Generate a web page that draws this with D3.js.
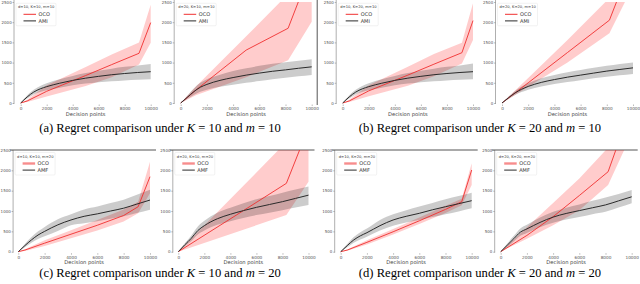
<!DOCTYPE html>
<html>
<head>
<meta charset="utf-8">
<script src="https://cdn.jsdelivr.net/npm/d3@7"></script>
<style>
body { margin: 0; background: #fff; }
svg { display: block; }
.tick text { font-family: "DejaVu Sans", sans-serif; fill: #555; }
.caption { font-family: "Liberation Serif", "Times New Roman", serif; font-size: 12.6px; fill: #000; }
</style>
</head>
<body>
<script>
var xTicks = [0, 2000, 4000, 6000, 8000, 10000]
var yTicks = [0, 500, 1000, 1500, 2000, 2500]
var legendTitles = ['d=10, K=10, m=10', 'd=20, K=10, m=10', 'd=10, K=20, m=10', 'd=20, K=20, m=10',
    'd=10, K=10, m=20', 'd=20, K=10, m=20', 'd=10, K=20, m=20', 'd=20, K=20, m=20']
var seriesNames = [['OCO', 'AMI'], ['OCO', 'AMF']]
var captionLetters = ['(a)', '(b)', '(c)', '(d)']
var captionK = ['10', '20', '10', '20']
var captionM = ['10', '10', '20', '20']

// OCO: sample points, mean, lower and upper band, one row per panel
var ocoX = [
    [0, 500, 2000, 5000, 7000, 9100, 10000],
    [0, 1200, 5000, 8200, 10000],
    [0, 500, 2000, 5000, 7000, 9150, 10000],
    [0, 2000, 5000, 8200, 10000],
    [0, 500, 2000, 4000, 6000, 8000, 9100, 10000],
    [0, 5000, 8300, 10000],
    [0, 500, 2000, 4000, 6000, 8000, 9240, 10000],
    [0, 2000, 4000, 6000, 8200, 10000]
]
var ocoMean = [
    [0, 50, 290, 680, 950, 1230, 1990],
    [0, 330, 1310, 1850, 3360],
    [0, 50, 300, 690, 960, 1245, 2040],
    [0, 500, 1250, 2050, 3550],
    [0, 40, 210, 430, 650, 890, 1106, 1844],
    [0, 1010, 1680, 3050],
    [0, 40, 230, 490, 760, 1040, 1229, 2008],
    [0, 400, 860, 1380, 1966, 3600]
]
var ocoLow = [
    [0, 25, 160, 420, 640, 950, 1490],
    [0, 200, 640, 1060, 2010],
    [0, 25, 170, 430, 660, 980, 1560],
    [0, 400, 1000, 1725, 2900],
    [0, 20, 140, 330, 520, 740, 944, 1436],
    [0, 540, 900, 1720],
    [0, 25, 180, 420, 680, 950, 1140, 1640],
    [0, 320, 650, 1020, 1640, 2900]
]
var ocoHigh = [
    [0, 80, 440, 890, 1200, 1500, 2430],
    [0, 420, 1650, 2700, 4500],
    [0, 80, 440, 900, 1210, 1490, 2470],
    [0, 620, 1560, 2600, 4200],
    [0, 60, 280, 530, 780, 1040, 1229, 2212],
    [0, 1620, 2700, 4200],
    [0, 55, 280, 560, 840, 1130, 1300, 2173],
    [0, 600, 1200, 1800, 2560, 4300]
]

var amiX = [0, 500, 1000, 1500, 2000, 3000, 4000, 5000, 6000, 7000, 8000, 9000, 10000]
var amiMean = [
    [0, 150, 270, 350, 405, 490, 560, 615, 660, 700, 730, 755, 775],
    [0, 140, 280, 390, 460, 560, 630, 690, 740, 785, 820, 860, 895],
    [0, 150, 270, 350, 405, 490, 560, 615, 660, 700, 730, 755, 775],
    [0, 130, 250, 340, 410, 510, 580, 640, 690, 740, 790, 830, 870],
    [0, 150, 290, 410, 500, 660, 780, 870, 930, 1000, 1070, 1170, 1270],
    [0, 170, 330, 520, 640, 810, 920, 1010, 1090, 1160, 1230, 1310, 1390],
    [0, 150, 290, 390, 467, 640, 780, 870, 944, 1030, 1106, 1180, 1254],
    [0, 160, 320, 480, 560, 720, 850, 940, 1010, 1080, 1150, 1250, 1350]
]
var amiLow = [
    [0, 110, 210, 270, 315, 380, 440, 480, 515, 540, 560, 575, 590],
    [0, 100, 200, 280, 330, 400, 450, 500, 545, 590, 625, 660, 695],
    [0, 110, 210, 270, 315, 380, 440, 480, 515, 540, 560, 575, 590],
    [0, 100, 200, 270, 330, 410, 470, 520, 565, 610, 650, 685, 720],
    [0, 110, 220, 310, 380, 510, 650, 700, 750, 810, 870, 950, 1030],
    [0, 130, 260, 420, 520, 660, 750, 830, 900, 960, 1020, 1085, 1150],
    [0, 110, 220, 300, 370, 520, 640, 720, 780, 850, 920, 990, 1066],
    [0, 120, 250, 390, 460, 600, 710, 790, 850, 920, 980, 1085, 1190]
]
var amiHigh = [
    [0, 190, 330, 420, 490, 590, 670, 740, 800, 850, 895, 930, 965],
    [0, 180, 360, 500, 590, 700, 790, 860, 920, 970, 1010, 1045, 1080],
    [0, 190, 330, 420, 490, 590, 670, 740, 800, 850, 895, 930, 980],
    [0, 160, 300, 410, 490, 610, 690, 760, 815, 870, 920, 965, 1005],
    [0, 190, 360, 500, 610, 800, 920, 1040, 1110, 1200, 1280, 1400, 1520],
    [0, 210, 400, 620, 760, 960, 1080, 1190, 1290, 1370, 1450, 1530, 1600],
    [0, 190, 360, 480, 570, 780, 920, 1020, 1110, 1200, 1290, 1370, 1450],
    [0, 200, 390, 570, 660, 840, 980, 1080, 1160, 1250, 1330, 1420, 1517]
]

var W = 640, H = 284
var svg = d3.select('body').append('svg').attr('width', W).attr('height', H)
var fmt = d3.format('d')

// pixel frame of each panel: x range for 0..10000, y range for 0..2500
var frames = [
    { x: [20.7, 150.7], y: [103, 2], spine: 6.7 },
    { x: [180.7, 311.7], y: [103, 2], spine: 6.5 },
    { x: [342.7, 473], y: [103, 2], spine: 6.5 },
    { x: [502, 633], y: [103, 2], spine: 6.5 },
    { x: [18.3, 150], y: [251.7, 150], spine: 5.2 },
    { x: [178.3, 308.5], y: [251.7, 150], spine: 5.5 },
    { x: [340.7, 471.7], y: [251.7, 150], spine: 6 },
    { x: [500.7, 631.7], y: [251.7, 150], spine: 6 }
]

frames.forEach(function (f, i) {
    var row = i < 4 ? 0 : 1
    var x = d3.scaleLinear().domain([0, 10000]).range(f.x)
    var y = d3.scaleLinear().domain([0, 2500]).range(f.y)
    var spineX = f.x[0] - f.spine
    var g = svg.append('g')

    g.append('clipPath').attr('id', 'clip' + i)
        .append('rect')
        .attr('x', spineX).attr('y', f.y[1])
        .attr('width', f.x[1] + 8 - spineX).attr('height', f.y[0] - f.y[1] + 2)

    // left spine
    g.append('line')
        .attr('x1', spineX).attr('x2', spineX)
        .attr('y1', f.y[1] - (row ? 0 : 2)).attr('y2', f.y[0] + 1)
        .attr('stroke', '#9a9a9a').attr('stroke-width', 0.8)
    if (row === 1) {
        g.append('line')
            .attr('x1', spineX - 3).attr('x2', f.x[1] + 6)
            .attr('y1', f.y[1]).attr('y2', f.y[1])
            .attr('stroke', '#555').attr('stroke-width', 1)
    }
    if (i === 1) {
        g.append('line')
            .attr('x1', f.x[1] + 5.5).attr('x2', f.x[1] + 5.5)
            .attr('y1', 0).attr('y2', f.y[0] + 2)
            .attr('stroke', '#555').attr('stroke-width', 1)
    }

    var yAxis = d3.axisLeft(y).tickValues(yTicks).tickFormat(fmt).tickSize(1.5).tickPadding(0.8)
    var gy = g.append('g').attr('transform', 'translate(' + spineX + ',0)').call(yAxis)
    gy.select('.domain').remove()
    gy.selectAll('.tick line').attr('stroke', '#777').attr('stroke-width', 0.5)
    gy.selectAll('.tick text').style('font-size', '4px')

    var xAxis = d3.axisBottom(x).tickValues(xTicks).tickFormat(fmt).tickSize(1.5).tickPadding(1.2)
    var gx = g.append('g').attr('transform', 'translate(0,' + (f.y[0] + 1.5) + ')').call(xAxis)
    gx.select('.domain').remove()
    gx.selectAll('.tick line').attr('stroke', '#777').attr('stroke-width', 0.5)
    gx.selectAll('.tick text').style('font-size', '4.2px')

    g.append('text')
        .attr('x', (f.x[0] + f.x[1]) / 2).attr('y', f.y[0] + 12.5)
        .attr('text-anchor', 'middle')
        .style('font-family', '"DejaVu Sans", sans-serif').style('font-size', '5.2px').style('fill', '#444')
        .text('Decision points')

    var plot = g.append('g').attr('clip-path', 'url(#clip' + i + ')')

    var ocoBand = d3.area()
        .x(function (d, k) { return x(ocoX[i][k]) })
        .y0(function (d, k) { return y(ocoLow[i][k]) })
        .y1(function (d, k) { return y(ocoHigh[i][k]) })
    var amiBand = d3.area().curve(d3.curveMonotoneX)
        .x(function (d, k) { return x(amiX[k]) })
        .y0(function (d, k) { return y(amiLow[i][k]) })
        .y1(function (d, k) { return y(amiHigh[i][k]) })
    var ocoLine = d3.line()
        .x(function (d, k) { return x(ocoX[i][k]) })
        .y(function (d) { return y(d) })
    var amiLine = d3.line().curve(d3.curveMonotoneX)
        .x(function (d, k) { return x(amiX[k]) })
        .y(function (d) { return y(d) })

    plot.append('path').datum(ocoMean[i]).attr('d', ocoBand).attr('fill', 'rgba(255,0,0,0.2)')
    plot.append('path').datum(amiMean[i]).attr('d', amiBand).attr('fill', 'rgba(0,0,0,0.2)')
    plot.append('path').datum(ocoMean[i]).attr('d', ocoLine)
        .attr('fill', 'none').attr('stroke', '#f03030').attr('stroke-width', 0.9)
    plot.append('path').datum(amiMean[i]).attr('d', amiLine)
        .attr('fill', 'none').attr('stroke', '#2a2a2a').attr('stroke-width', 1)

    // legend
    var lx = spineX + 2, ly = f.y[1] + (row ? 2.5 : 1.3)
    var lg = g.append('g').attr('transform', 'translate(' + lx + ',' + ly + ')')
    lg.append('rect').attr('width', 40).attr('height', 22.5).attr('rx', 1)
        .attr('fill', 'rgba(255,255,255,0.85)').attr('stroke', '#ddd').attr('stroke-width', 0.4)
    lg.append('text').attr('x', 2).attr('y', 5.2)
        .style('font-family', '"DejaVu Sans", sans-serif').style('font-size', '3.7px').style('fill', '#333')
        .text(legendTitles[i])
    var names = seriesNames[row]
    var colors = ['#f03030', '#2a2a2a']
    names.forEach(function (n, k) {
        var yy = 11 + k * 6.6
        lg.append('line').attr('x1', 7.5).attr('x2', 20).attr('y1', yy).attr('y2', yy)
            .attr('stroke', colors[k]).attr('stroke-width', k === 0 && row === 1 ? 2.4 : 1)
            .attr('stroke-opacity', k === 0 && row === 1 ? 0.55 : 1)
        lg.append('text').attr('x', 22.5).attr('y', yy + 1.8)
            .style('font-family', '"DejaVu Sans", sans-serif').style('font-size', '5px').style('fill', '#333')
            .text(n)
    })
})

// captions
captionLetters.forEach(function (c, j) {
    var cx = j % 2 === 0 ? 160 : 480
    var cy = j < 2 ? 131.5 : 277
    var t = svg.append('text').attr('class', 'caption')
        .attr('x', cx).attr('y', cy).attr('text-anchor', 'middle')
    t.append('tspan').text(c + ' Regret comparison under ')
    t.append('tspan').style('font-style', 'italic').text('K')
    t.append('tspan').text(' = ' + captionK[j] + ' and ')
    t.append('tspan').style('font-style', 'italic').text('m')
    t.append('tspan').text(' = ' + captionM[j])
})
</script>
</body>
</html>
